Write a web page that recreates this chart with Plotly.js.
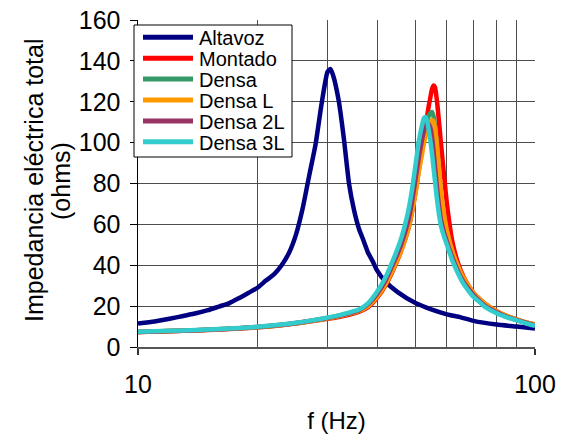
<!DOCTYPE html>
<html>
<head>
<meta charset="utf-8">
<script src="https://cdn.plot.ly/plotly-3.0.1.min.js"></script>
<style>html,body{margin:0;padding:0;background:#fff;}#chart{width:566px;height:439px;}</style>
</head>
<body>
<div id="chart"></div>
<script>
// Altavoz (free-air speaker) frequency grid and impedance
var freqAltavoz = [10,11,12,13,14,15,16,17,18,19,20,21,22,23,24,25,26,27,28,29,30,30.5,31,32,33,34,35,36,37,38,39,40,42,45,50,55,60,65,70,80,90,100];
var altavoz =     [11.5,12.5,13.8,15.2,16.5,18,19.8,21.5,24,26.5,29,32.5,35.5,40,46,55,68,84,99,119,134.5,136,133,121,102,80,67,58,52,46,42,37.5,32,27,21.5,18.3,16,14.5,12.8,11,10,9];

// Common frequency grid for the mounted / damped cases
var freqDensa = [10,12,14,16,18,20,22,24,26,28,30,32,34,36,38,40,42,44,46,48,49,50,51,52,52.5,53,53.5,54,54.5,55,55.5,56,56.5,57,57.5,58,59,60,62,64,66,68,70,72,75,80,85,90,95,100];

var montado = [7.3,7.7,8.1,8.6,9.1,9.6,10.3,11.1,12,12.9,13.8,14.7,15.8,17.2,19.5,24,30,38,47,58,66,76,87,97,102,108,113,118,122,126,128,127,122,115,107,99,84,70,51,41,34.5,30,26.5,24,21,17.5,15,13.4,12,11];
var densa   = [7.4,7.8,8.2,8.7,9.2,9.7,10.4,11.2,12.1,13.1,14.1,15.1,16.3,17.7,20.5,25,31,39,48,59,67,77,88,98,103,107,110.5,113,114.5,115,113,108,100,91,82,74,63,56,46,39,33.5,29.5,26,23.5,20.5,17.2,15,13.3,11.9,10.8];
var densaL  = [7.4,7.8,8.2,8.7,9.2,9.7,10.4,11.2,12.1,13,14,15,16.2,17.6,20,24.5,30.5,38.5,47,58,66,75,86,95,99.5,103,106,108.5,110,111,110.5,107,101,93,84,76,65,57,46.5,39.5,34,30,26.5,24,21,17.5,15.2,13.5,12,11];
var densa2L = [7.4,7.8,8.2,8.7,9.2,9.8,10.5,11.3,12.2,13.2,14.2,15.3,16.5,18,21,26,32.5,41,50,62,71,82,93,102,105.5,108,109,109,107.5,103,96,88,80,73,67,62,56,51.5,43.5,37,32,28.5,25.5,23,20,17,14.8,13.2,11.8,10.6];
var densa3L = [7.5,7.9,8.3,8.8,9.3,9.9,10.6,11.4,12.3,13.3,14.4,15.5,16.8,18.3,21.5,27,34,43,53,67,77,89,101,109,112,112.5,110.5,106,101,95,88,81,74,68,63,59,54,50,42,36,31,27.5,24.5,22.5,19.5,16.5,14.5,13,11.5,10.3];

var seriesNames  = ['Altavoz','Montado','Densa','Densa L','Densa 2L','Densa 3L'];
var seriesColors = ['#000080','#FF0000','#339966','#FF9900','#993366','#33CCCC'];

var xTickVals  = [10,100];
var xTickText  = ['10','100'];
var xMinorVals = [20,30,40,50,60,70,80,90];
var yTitleLines = ['Impedancia eléctrica total','(ohms)'];

var xs = [freqAltavoz,freqDensa,freqDensa,freqDensa,freqDensa,freqDensa];
var ys = [altavoz,montado,densa,densaL,densa2L,densa3L];

var FONT = 'Liberation Sans, Arial, sans-serif';
var traces = [];
for (var i = 0; i < seriesNames.length; i++) {
  traces.push({
    x: xs[i], y: ys[i], type: 'scatter', mode: 'lines', name: seriesNames[i],
    line: {color: seriesColors[i], width: 4.5, shape: 'spline', smoothing: 0.5},
    showlegend: false, hoverinfo: 'skip'
  });
}

// plot area pixel -> paper helpers (plot area 138..535 x 20..347)
var L = 138, R = 535, T = 20, B = 347;
function px(x) { return (x - L) / (R - L); }
function py(y) { return (B - y) / (B - T); }

var shapes = [{
  type: 'rect', xref: 'paper', yref: 'paper',
  x0: px(134), x1: px(292), y0: py(157), y1: py(25),
  fillcolor: '#ffffff', line: {color: '#000000', width: 1}, layer: 'above'
}];
var annotations = [];
for (var j = 0; j < seriesNames.length; j++) {
  var yy = 37.3 + j * 20.9;
  shapes.push({type: 'line', xref: 'paper', yref: 'paper', x0: px(143), x1: px(193), y0: py(yy), y1: py(yy),
    line: {color: seriesColors[j], width: 5}, layer: 'above'});
  annotations.push({xref: 'paper', yref: 'paper', x: px(197), y: py(yy + 1), xanchor: 'left', yanchor: 'middle',
    text: seriesNames[j], showarrow: false, font: {family: FONT, size: 20, color: '#000'}});
}
// two-line y axis title (tight line spacing as in the original)
var titleX = [34, 61];
for (var k = 0; k < yTitleLines.length; k++) {
  annotations.push({xref: 'paper', yref: 'paper', x: px(titleX[k]), y: py(181), xanchor: 'center', yanchor: 'middle',
    text: yTitleLines[k], textangle: -90, showarrow: false, font: {family: FONT, size: 25, color: '#000'}});
}

var layout = {
  width: 566, height: 439,
  margin: {l: L, r: 566 - R, t: T, b: 439 - B},
  paper_bgcolor: '#fff', plot_bgcolor: '#fff',
  font: {family: FONT, color: '#000'},
  showlegend: false,
  xaxis: {
    type: 'log', range: [1, 2],
    tickmode: 'array', tickvals: xTickVals, ticktext: xTickText,
    ticks: 'outside', ticklen: 6, tickcolor: '#333', tickwidth: 1.5,
    ticklabelstandoff: 8,
    tickfont: {family: FONT, size: 25, color: '#000'},
    showgrid: true, gridcolor: '#4d4d4d', gridwidth: 1,
    minor: {tickmode: 'array', tickvals: xMinorVals, showgrid: true, gridcolor: '#4d4d4d', gridwidth: 1, ticks: ''},
    showline: true, linecolor: '#555', linewidth: 2,
    zeroline: false, fixedrange: true,
    title: {text: 'f (Hz)', font: {family: FONT, size: 24, color: '#000'}, standoff: 15}
  },
  yaxis: {
    range: [0, 160], dtick: 20, tick0: 0,
    ticks: 'outside', ticklen: 7, tickcolor: '#000', tickwidth: 1,
    ticklabelstandoff: 4,
    tickfont: {family: FONT, size: 25, color: '#000'},
    showgrid: true, gridcolor: '#4d4d4d', gridwidth: 1,
    showline: true, linecolor: '#000', linewidth: 1.5,
    zeroline: false, fixedrange: true
  },
  shapes: shapes,
  annotations: annotations
};

Plotly.newPlot('chart', traces, layout, {displayModeBar: false, staticPlot: true});
</script>
</body>
</html>
